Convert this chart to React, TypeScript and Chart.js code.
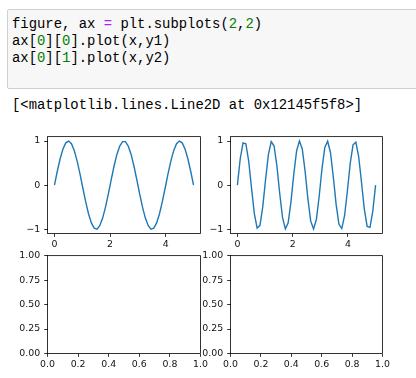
import React, { useEffect, useRef } from "react";
import { Chart, registerables } from "chart.js";

Chart.register(...registerables);

// ---- data ----
const xValues = [
  0, 0.102, 0.204, 0.306, 0.408, 0.51, 0.612, 0.714, 0.816, 0.918,
  1.02, 1.122, 1.224, 1.327, 1.429, 1.531, 1.633, 1.735, 1.837, 1.939,
  2.041, 2.143, 2.245, 2.347, 2.449, 2.551, 2.653, 2.755, 2.857, 2.959,
  3.061, 3.163, 3.265, 3.367, 3.469, 3.571, 3.673, 3.776, 3.878, 3.98,
  4.082, 4.184, 4.286, 4.388, 4.49, 4.592, 4.694, 4.796, 4.898, 5.0,
];
const y1Values = [
  0, 0.3151, 0.5981, 0.8202, 0.9587, 0.9995, 0.9385, 0.7818, 0.5455, 0.2537,
  -0.0641, -0.3752, -0.6482, -0.8551, -0.9749, -0.9954, -0.9144, -0.7403, -0.4907, -0.1912,
  0.1279, 0.4339, 0.6956, 0.8866, 0.9872, 0.9872, 0.8866, 0.6956, 0.4339, 0.1279,
  -0.1912, -0.4907, -0.7403, -0.9144, -0.9954, -0.9749, -0.8551, -0.6482, -0.3752, -0.0641,
  0.2537, 0.5455, 0.7818, 0.9385, 0.9995, 0.9587, 0.8202, 0.5981, 0.3151, 0,
];
const y2Values = [
  0, 0.5981, 0.9587, 0.9385, 0.5455, -0.0641, -0.6482, -0.9749, -0.9144, -0.4907,
  0.1279, 0.6956, 0.9872, 0.8866, 0.4339, -0.1912, -0.7403, -0.9954, -0.8551, -0.3752,
  0.2537, 0.7818, 0.9995, 0.8202, 0.3151, -0.3151, -0.8202, -0.9995, -0.7818, -0.2537,
  0.3752, 0.8551, 0.9954, 0.7403, 0.1912, -0.4339, -0.8866, -0.9872, -0.6956, -0.1279,
  0.4907, 0.9144, 0.9749, 0.6482, 0.0641, -0.5455, -0.9385, -0.9587, -0.5981, 0,
];
const lineXTicks = [0, 2, 4];
const lineYTicks = [-1, 0, 1];
const emptyXTicks = [0, 0.2, 0.4, 0.6, 0.8, 1.0];
const emptyYTicks = [0, 0.25, 0.5, 0.75, 1.0];

const outputText = "[<matplotlib.lines.Line2D at 0x12145f5f8>]";

const BLUE = "#1f77b4";
const TICK_FONT = { family: "DejaVu Sans", size: 9.4 };
const MONO = "'Liberation Mono', 'DejaVu Sans Mono', monospace";

const fmt = (v: number, digits: number) => {
  const s = Math.abs(v).toFixed(digits);
  return v < 0 ? "\u2212" + s : s;
};

const framePlugin = {
  id: "frame",
  afterDraw(chart: any) {
    const { ctx, chartArea: a } = chart;
    ctx.save();
    ctx.strokeStyle = "#000";
    ctx.lineWidth = 0.8;
    ctx.strokeRect(a.left, a.top, a.right - a.left, a.bottom - a.top);
    ctx.restore();
  },
};

type Frame = { l: number; t: number; r: number; b: number };

const Y_W = 40.5;
const X_H = 22.5;
const PAD_T = 8.5;
const PAD_R = 10.5;

function Subplot(props: {
  frame: Frame;
  xMin: number;
  xMax: number;
  yMin: number;
  yMax: number;
  xTicks: number[];
  yTicks: number[];
  xDigits: number;
  yDigits: number;
  xs?: number[];
  ys?: number[];
}) {
  const ref = useRef<HTMLCanvasElement>(null);
  const { frame } = props;
  const cl = frame.l - Y_W;
  const ct = frame.t - PAD_T;
  const w = frame.r - cl + PAD_R;
  const h = frame.b - ct + X_H;

  useEffect(() => {
    const { xs, ys } = props;
    const datasets: any[] = [];
    if (xs && ys) {
      datasets.push({
        data: xs.map((x, i) => ({ x, y: ys[i] })),
        borderColor: BLUE,
        borderWidth: 1.4,
        pointRadius: 0,
        fill: false,
        tension: 0,
      });
    }
    const gridOpts = {
      drawOnChartArea: false,
      drawTicks: true,
      tickLength: 3.3,
      tickColor: "#000",
      tickWidth: 0.8,
      lineWidth: 0.8,
      color: "#000",
    };
    const chart = new Chart(ref.current as HTMLCanvasElement, {
      type: "line",
      data: { datasets },
      options: {
        animation: false,
        responsive: false,
        devicePixelRatio: 1,
        events: [],
        layout: { padding: { left: 0, top: PAD_T, right: PAD_R, bottom: 0 } },
        plugins: { legend: { display: false }, tooltip: { enabled: false } },
        scales: {
          x: {
            type: "linear",
            min: props.xMin,
            max: props.xMax,
            afterBuildTicks: (s: any) => {
              s.ticks = props.xTicks.map((v) => ({ value: v }));
            },
            afterFit: (s: any) => {
              s.height = X_H;
            },
            grid: gridOpts,
            border: { display: false },
            ticks: {
              autoSkip: false,
              maxRotation: 0,
              minRotation: 0,
              padding: 2.5,
              color: "#111",
              font: TICK_FONT,
              callback: (v: any) => fmt(Number(v), props.xDigits),
            },
          },
          y: {
            type: "linear",
            min: props.yMin,
            max: props.yMax,
            afterBuildTicks: (s: any) => {
              s.ticks = props.yTicks.map((v) => ({ value: v }));
            },
            afterFit: (s: any) => {
              s.width = Y_W;
            },
            grid: gridOpts,
            border: { display: false },
            ticks: {
              autoSkip: false,
              padding: 4,
              color: "#111",
              font: TICK_FONT,
              callback: (v: any) => fmt(Number(v), props.yDigits),
            },
          },
        },
      } as any,
      plugins: [framePlugin],
    });
    return () => chart.destroy();
  }, []);

  return (
    <canvas
      ref={ref}
      width={w}
      height={h}
      style={{ position: "absolute", left: cl, top: ct, width: w, height: h }}
    />
  );
}

const G = ({ children }: { children: React.ReactNode }) => (
  <span style={{ color: "#008000" }}>{children}</span>
);
const Op = ({ children }: { children: React.ReactNode }) => (
  <span style={{ color: "#aa22ff" }}>{children}</span>
);

export default function App() {
  const codeStyle: React.CSSProperties = {
    position: "absolute",
    left: 12,
    fontFamily: MONO,
    fontSize: 13.9,
    lineHeight: "17px",
    whiteSpace: "pre",
    color: "#000",
  };
  return (
    <div
      style={{
        position: "fixed",
        left: 0,
        top: 0,
        width: 416,
        height: 378,
        overflow: "hidden",
        background: "#fff",
      }}
    >
      <div
        style={{
          position: "absolute",
          left: 7,
          top: 9,
          width: 430,
          height: 80,
          boxSizing: "border-box",
          background: "#f7f7f7",
          border: "1px solid #cfcfcf",
          borderRadius: 2,
        }}
      />
      <div style={{ ...codeStyle, top: 16 }}>
        figure, ax <Op>=</Op> plt.subplots(<G>2</G>,<G>2</G>)
      </div>
      <div style={{ ...codeStyle, top: 33 }}>
        ax[<G>0</G>][<G>0</G>].plot(x,y1)
      </div>
      <div style={{ ...codeStyle, top: 50 }}>
        ax[<G>0</G>][<G>1</G>].plot(x,y2)
      </div>
      <div style={{ ...codeStyle, top: 97 }}>{outputText}</div>

      <Subplot
        frame={{ l: 47.5, t: 135.5, r: 200.5, b: 233.5 }}
        xMin={-0.25}
        xMax={5.25}
        yMin={-1.0951}
        yMax={1.0992}
        xTicks={lineXTicks}
        yTicks={lineYTicks}
        xDigits={0}
        yDigits={0}
        xs={xValues}
        ys={y1Values}
      />
      <Subplot
        frame={{ l: 230.5, t: 135.5, r: 382.5, b: 233.5 }}
        xMin={-0.25}
        xMax={5.25}
        yMin={-1.0995}
        yMax={1.0995}
        xTicks={lineXTicks}
        yTicks={lineYTicks}
        xDigits={0}
        yDigits={0}
        xs={xValues}
        ys={y2Values}
      />
      <Subplot
        frame={{ l: 47.5, t: 254.5, r: 200.5, b: 353.5 }}
        xMin={0}
        xMax={1}
        yMin={0}
        yMax={1}
        xTicks={emptyXTicks}
        yTicks={emptyYTicks}
        xDigits={1}
        yDigits={2}
      />
      <Subplot
        frame={{ l: 230.5, t: 254.5, r: 382.5, b: 353.5 }}
        xMin={0}
        xMax={1}
        yMin={0}
        yMax={1}
        xTicks={emptyXTicks}
        yTicks={emptyYTicks}
        xDigits={1}
        yDigits={2}
      />
    </div>
  );
}
